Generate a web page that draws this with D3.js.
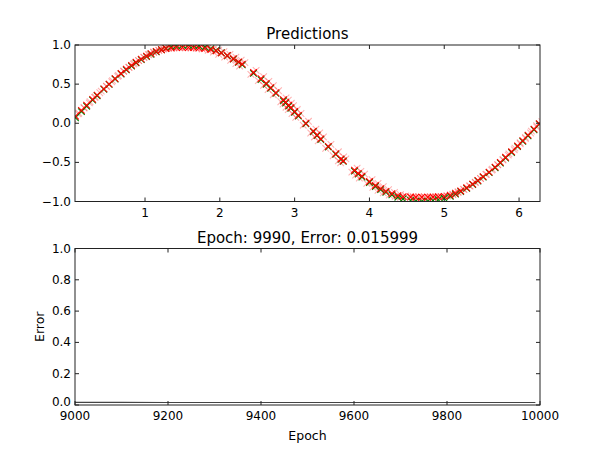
<!DOCTYPE html>
<html>
<head>
<meta charset="utf-8">
<script src="https://cdn.jsdelivr.net/npm/d3@7"></script>
<style>
  body { margin: 0; background: #fff; }
  text { font-family: "DejaVu Sans", sans-serif; fill: #000; }
</style>
</head>
<body>
<svg id="chart" width="600" height="450"></svg>
<script>
// sample inputs and targets (top panel)
const xs = [0.07, 0.15, 0.22, 0.30, 0.36, 0.45, 0.52, 0.60, 0.68, 0.75, 0.82, 0.88, 0.95, 1.02, 1.08,
  1.15, 1.22, 1.28, 1.35, 1.42, 1.50, 1.58, 1.65, 1.72, 1.80, 1.88, 1.95, 2.02, 2.10, 2.18, 2.25, 2.30,
  2.45, 2.55, 2.62, 2.68, 2.75, 2.85, 2.88, 2.92, 2.95, 3.00, 3.05, 3.15, 3.25, 3.30, 3.35, 3.45, 3.55,
  3.62, 3.65, 3.80, 3.85, 3.90, 4.00, 4.08, 4.15, 4.22, 4.30, 4.38, 4.45, 4.55, 4.62, 4.70, 4.78, 4.85,
  4.92, 5.00, 5.08, 5.15, 5.22, 5.30, 5.38, 5.45, 5.52, 5.60, 5.68, 5.75, 5.82, 5.90, 5.98, 6.05, 6.12,
  6.20, 6.27];
const targets = [0.070, 0.149, 0.218, 0.296, 0.352, 0.435, 0.497, 0.565, 0.629, 0.682, 0.731, 0.771, 0.813,
  0.852, 0.882, 0.913, 0.939, 0.958, 0.976, 0.989, 0.997, 1.000, 0.997, 0.989, 0.974, 0.953, 0.929, 0.901,
  0.863, 0.820, 0.778, 0.746, 0.638, 0.558, 0.498, 0.445, 0.382, 0.287, 0.259, 0.219, 0.190, 0.141, 0.092,
  -0.008, -0.108, -0.158, -0.207, -0.303, -0.397, -0.461, -0.488, -0.612, -0.650, -0.688, -0.757, -0.808,
  -0.848, -0.882, -0.916, -0.945, -0.966, -0.987, -0.996, -1.000, -0.997, -0.990, -0.977, -0.959, -0.935,
  -0.906, -0.874, -0.832, -0.783, -0.738, -0.688, -0.631, -0.568, -0.508, -0.444, -0.374, -0.298, -0.231,
  -0.162, -0.083, -0.013];
// current predictions
const preds = [0.090, 0.165, 0.230, 0.305, 0.360, 0.440, 0.500, 0.570, 0.635, 0.690, 0.740, 0.780, 0.820,
  0.858, 0.890, 0.918, 0.940, 0.955, 0.962, 0.966, 0.968, 0.968, 0.966, 0.962, 0.955, 0.942, 0.925, 0.900,
  0.865, 0.825, 0.785, 0.755, 0.650, 0.570, 0.510, 0.455, 0.390, 0.300, 0.270, 0.230, 0.200, 0.150, 0.100,
  0.000, -0.100, -0.150, -0.200, -0.295, -0.390, -0.455, -0.480, -0.600, -0.640, -0.675, -0.745, -0.795,
  -0.835, -0.870, -0.900, -0.925, -0.938, -0.943, -0.945, -0.945, -0.945, -0.943, -0.940, -0.935, -0.920,
  -0.895, -0.865, -0.825, -0.778, -0.732, -0.682, -0.625, -0.560, -0.500, -0.435, -0.365, -0.290, -0.222,
  -0.152, -0.075, -0.005];
// earlier predictions (faded)
const oldPredsA = [0.120, 0.195, 0.260, 0.335, 0.390, 0.470, 0.530, 0.600, 0.665, 0.715, 0.765, 0.800, 0.845,
  0.880, 0.910, 0.935, 0.955, 0.965, 0.970, 0.972, 0.972, 0.970, 0.968, 0.965, 0.960, 0.950, 0.935, 0.915,
  0.880, 0.845, 0.805, 0.775, 0.675, 0.595, 0.535, 0.480, 0.415, 0.325, 0.295, 0.255, 0.225, 0.175, 0.125,
  0.025, -0.075, -0.125, -0.175, -0.270, -0.365, -0.430, -0.455, -0.575, -0.615, -0.650, -0.720, -0.770,
  -0.810, -0.850, -0.885, -0.912, -0.928, -0.935, -0.938, -0.940, -0.940, -0.938, -0.935, -0.925, -0.905,
  -0.875, -0.842, -0.800, -0.752, -0.705, -0.655, -0.598, -0.532, -0.472, -0.408, -0.338, -0.262, -0.195,
  -0.125, -0.048, 0.020];
const oldPredsB = [0.055, 0.130, 0.200, 0.275, 0.330, 0.410, 0.475, 0.545, 0.610, 0.665, 0.715, 0.755, 0.800,
  0.840, 0.875, 0.905, 0.930, 0.948, 0.958, 0.962, 0.964, 0.964, 0.962, 0.958, 0.948, 0.932, 0.910, 0.882,
  0.845, 0.805, 0.762, 0.732, 0.625, 0.545, 0.485, 0.430, 0.365, 0.275, 0.245, 0.205, 0.175, 0.125, 0.075,
  -0.025, -0.125, -0.175, -0.225, -0.320, -0.415, -0.480, -0.505, -0.625, -0.662, -0.700, -0.768, -0.818,
  -0.858, -0.890, -0.918, -0.935, -0.945, -0.948, -0.950, -0.950, -0.950, -0.948, -0.945, -0.942, -0.932,
  -0.912, -0.885, -0.848, -0.802, -0.758, -0.708, -0.652, -0.588, -0.528, -0.462, -0.392, -0.318, -0.250,
  -0.180, -0.100, -0.030];

// error history (bottom panel)
const epochs = [9000, 9100, 9200, 9300, 9400, 9500, 9600, 9700, 9800, 9900, 9990];
const errors = [0.0162, 0.0162, 0.0161, 0.0161, 0.0161, 0.0161, 0.0160, 0.0160, 0.0160, 0.0160, 0.0160];

const topYTicks = [-1.0, -0.5, 0.0, 0.5, 1.0];
const topXTicks = [1, 2, 3, 4, 5, 6];
const botYTicks = [0.0, 0.2, 0.4, 0.6, 0.8, 1.0];
const botXTicks = [9000, 9200, 9400, 9600, 9800, 10000];

const svg = d3.select('#chart');
const left = 75, right = 540;
const top1 = 45, bot1 = 201.5, top2 = 248.5, bot2 = 405;

const x1 = d3.scaleLinear().domain([0.064, 6.28]).range([left, right]);
const y1 = d3.scaleLinear().domain([-1, 1]).range([bot1, top1]);
const x2 = d3.scaleLinear().domain([9000, 10000]).range([left, right]);
const y2 = d3.scaleLinear().domain([0, 1]).range([bot2, top2]);

svg.append('defs').append('clipPath').attr('id', 'clip1')
  .append('rect').attr('x', left).attr('y', top1).attr('width', right - left).attr('height', bot1 - top1);

function cross(g, data, color, opacity) {
  g.selectAll(null).data(data).enter().append('path')
    .attr('d', d => {
      const cx = x1(d[0]), cy = y1(d[1]), r = 3.3;
      return `M${cx - r},${cy - r}L${cx + r},${cy + r}M${cx - r},${cy + r}L${cx + r},${cy - r}`;
    })
    .attr('stroke', color)
    .attr('stroke-opacity', opacity)
    .attr('stroke-width', 1.1)
    .attr('fill', 'none');
}

const pts = svg.append('g').attr('clip-path', 'url(#clip1)');
cross(pts, xs.map((x, i) => [x + 0.035, oldPredsA[i]]), '#ff0000', 0.3);
cross(pts, xs.map((x, i) => [x - 0.035, oldPredsB[i]]), '#ff0000', 0.3);
cross(pts, xs.map((x, i) => [x, targets[i]]), '#008000', 1);
cross(pts, xs.map((x, i) => [x, preds[i]]), '#ff0000', 1);

// error line
svg.append('path')
  .datum(epochs.map((e, i) => [e, errors[i]]))
  .attr('d', d3.line().x(d => x2(d[0])).y(d => y2(d[1])))
  .attr('stroke', '#444')
  .attr('stroke-width', 1.2)
  .attr('fill', 'none');

function frame(xs_, ys_, xt, yt, fmtX, fmtY, yTop, yBot, lowLift) {
  const g = svg.append('g');
  g.append('rect').attr('x', left).attr('y', yTop).attr('width', right - left).attr('height', yBot - yTop)
    .attr('fill', 'none').attr('stroke', '#222').attr('stroke-width', 1);
  xt.forEach(t => {
    const px = xs_(t);
    g.append('line').attr('x1', px).attr('x2', px).attr('y1', yBot).attr('y2', yBot - 4).attr('stroke', '#222');
    g.append('line').attr('x1', px).attr('x2', px).attr('y1', yTop).attr('y2', yTop + 4).attr('stroke', '#222');
    g.append('text').attr('x', px).attr('y', yBot + 15).attr('text-anchor', 'middle')
      .attr('font-size', 12).text(fmtX(t));
  });
  yt.forEach((t, i) => {
    const py = ys_(t);
    g.append('line').attr('x1', left).attr('x2', left + 4).attr('y1', py).attr('y2', py).attr('stroke', '#222');
    g.append('line').attr('x1', right).attr('x2', right - 4).attr('y1', py).attr('y2', py).attr('stroke', '#222');
    g.append('text').attr('x', left - 4).attr('y', py + (i === 0 ? 4 - lowLift : 4)).attr('text-anchor', 'end')
      .attr('font-size', 12).text(fmtY(t));
  });
}

const f1 = v => d3.format('.1f')(v).replace('-', '\u2212');
frame(x1, y1, topXTicks, topYTicks, d => String(d), f1, top1, bot1, 0);
frame(x2, y2, botXTicks, botYTicks, d => String(d), f1, top2, bot2, 3);

svg.append('text').attr('x', (left + right) / 2).attr('y', top1 - 6).attr('text-anchor', 'middle')
  .attr('font-size', 15).text('Predictions');
svg.append('text').attr('x', (left + right) / 2).attr('y', top2 - 6).attr('text-anchor', 'middle')
  .attr('font-size', 15).text('Epoch: 9990, Error: 0.015999');
svg.append('text').attr('x', (left + right) / 2).attr('y', 440).attr('text-anchor', 'middle')
  .attr('font-size', 12.5).text('Epoch');
svg.append('text').attr('transform', `translate(44,${(top2 + bot2) / 2}) rotate(-90)`)
  .attr('text-anchor', 'middle').attr('font-size', 12.5).text('Error');
</script>
</body>
</html>
